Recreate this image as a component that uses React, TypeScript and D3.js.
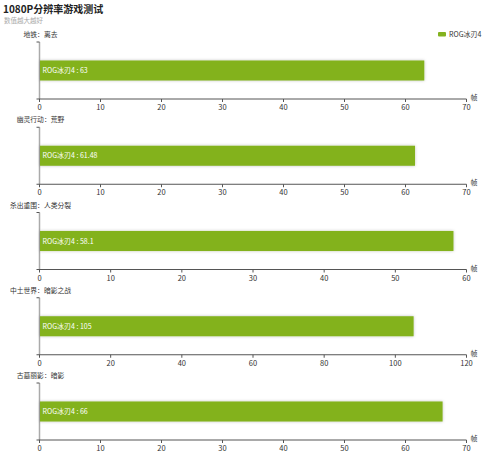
import React from "react";
import * as d3 from "d3";

const games = ["地铁：离去", "幽灵行动：荒野", "杀出重围：人类分裂", "中土世界：暗影之战", "古墓丽影：暗影"];
const values = [63, 61.48, 58.1, 105, 66];
const axisMax = [70, 70, 60, 120, 70];
const tickStep = [10, 10, 10, 20, 10];
const seriesName = "ROG冰刃4";
const unit = "帧";

const W = 500;
const H = 475;
const FONT = "'Noto Sans CJK SC', 'Noto Sans', sans-serif";
const BAR = "#83b21f";

export default function App() {
  const x0 = 39.5;
  const x1 = 466.5;
  const panelTop = (i: number) => 42 + i * 85.25;
  const panelH = 57;

  return (
    <svg width={W} height={H} style={{ position: "absolute", left: 0, top: 0 }} fontFamily={FONT}>
      <defs>
        <filter id="sh" x="-5%" y="-40%" width="110%" height="180%">
          <feDropShadow dx="0" dy="0" stdDeviation="1.5" floodColor="#000" floodOpacity="0.25" />
        </filter>
      </defs>
      <rect width={W} height={H} fill="#fff" />
      <text x={3} y={12.5} fontSize={10} fontWeight="bold" fill="#222">1080P分辨率游戏测试</text>
      <text x={4} y={22.5} fontSize={6.5} fill="#aaa">数值越大越好</text>
      <rect x={438} y={32} width={8} height={4.5} rx={1} fill={BAR} />
      <text x={449} y={36.5} fontSize={7} fill="#333">{seriesName}</text>
      {games.map((g, i) => {
        const top = panelTop(i);
        const bottom = top + panelH;
        const x = d3.scaleLinear().domain([0, axisMax[i]]).range([x0, x1]);
        const y = d3.scaleBand().domain([g]).range([top, bottom]).paddingInner(0).paddingOuter(0.92);
        const ticks = d3.range(0, axisMax[i] + 0.001, tickStep[i]);
        const by = y(g)!;
        const bh = y.bandwidth();
        return (
          <g key={g}>
            <text x={x0 + 1} y={top - 5} fontSize={6.8} fill="#333" textAnchor="middle">{g}</text>
            <line x1={x0} x2={x0} y1={top} y2={bottom} stroke="#aaa" strokeWidth={1.5} />
            <line x1={x0 - 3} x2={x0} y1={top} y2={top} stroke="#555" strokeWidth={1} />
            <line x1={x0 - 3} x2={x1} y1={bottom} y2={bottom} stroke="#555" strokeWidth={1} />
            {ticks.map((t) => (
              <g key={t}>
                <line x1={x(t)} x2={x(t)} y1={bottom} y2={bottom + 3} stroke="#555" strokeWidth={1} />
                <text x={x(t)} y={bottom + 11} fontSize={7.5} fill="#333" textAnchor="middle">{t}</text>
              </g>
            ))}
            <text x={x1 + 4} y={bottom + 1} fontSize={7} fill="#333">{unit}</text>
            <rect x={x(0) + 0.5} y={by} width={x(values[i]) - x(0)} height={bh} fill={BAR} filter="url(#sh)" />
            <text x={x(0) + 3} y={by + bh / 2 + 2.5} fontSize={7} fill="#fff">{`${seriesName} : ${values[i]}`}</text>
          </g>
        );
      })}
    </svg>
  );
}
